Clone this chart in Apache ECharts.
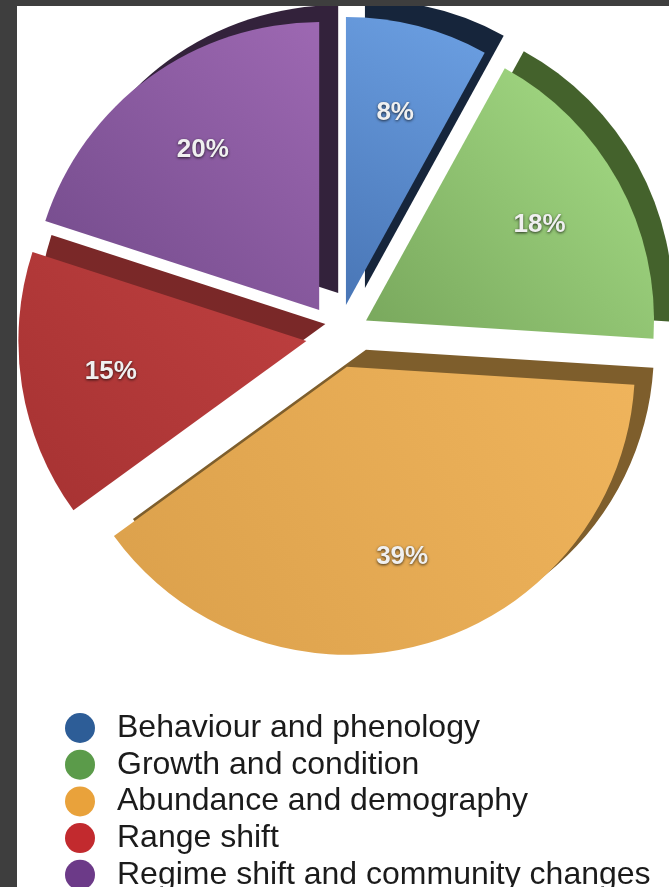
<!DOCTYPE html>
<html>
<head>
<meta charset="utf-8">
<script src="https://cdn.jsdelivr.net/npm/echarts@6/dist/echarts.min.js"></script>
<style>
  html, body { margin: 0; padding: 0; background: #3e3e3e; width: 669px; height: 887px; overflow: hidden; }
  #chart { position: absolute; left: 17px; top: 6px; width: 652px; height: 881px; background: #ffffff; }
</style>
</head>
<body>
<div id="chart"></div>
<script>
// Categories and their share of studies (percent)
const categories = [
  'Behaviour and phenology',
  'Growth and condition',
  'Abundance and demography',
  'Range shift',
  'Regime shift and community changes'
];
const shares = [8, 18, 39, 15, 20];

// Palette: top face gradient (light, dark), side wall, legend dot
const faceLight = ['#6ca0e3', '#a8df88', '#efb45c', '#bf4040', '#9d68b2'];
const faceDark  = ['#4976b6', '#78a75c', '#dba04b', '#a63232', '#724a8a'];
const wallColor = ['#16253b', '#44622c', '#7e5e2c', '#7a2828', '#33223b'];
const dotColor  = ['#2d5d97', '#5b9b4a', '#e9a23b', '#c22a2e', '#6c3a88'];

const chart = echarts.init(document.getElementById('chart'));

const cx = 321, cy = 330, R = 288, explode = 32;

function faceData() {
  return categories.map((name, i) => ({
    name, value: shares[i], selected: true,
    itemStyle: {
      color: new echarts.graphic.LinearGradient(1, 0, 0, 1, [
        { offset: 0, color: faceLight[i] },
        { offset: 1, color: faceDark[i] }
      ])
    }
  }));
}
function wallData() {
  return categories.map((name, i) => ({
    name, value: shares[i], selected: true,
    itemStyle: { color: wallColor[i] }
  }));
}
function labelData() {
  return categories.map((name, i) => ({ name, value: shares[i], selected: true }));
}

const common = {
  type: 'pie',
  startAngle: 90,
  clockwise: true,
  selectedMode: 'multiple',
  selectedOffset: explode,
  avoidLabelOverlap: false,
  labelLine: { show: false },
  emphasis: { disabled: true },
  silent: true
};

chart.setOption({
  animation: false,
  backgroundColor: '#ffffff',
  legend: {
    orient: 'vertical',
    left: 43,
    top: 701,
    height: 200,
    icon: 'circle',
    itemWidth: 30,
    itemHeight: 30,
    itemGap: 4.7,
    selectedMode: false,
    textStyle: {
      fontFamily: 'Liberation Sans, Arial, sans-serif',
      fontSize: 32,
      lineHeight: 30,
      color: '#1b1b1b',
      padding: [0, 0, 0, 17]
    },
    data: categories.map((name, i) => ({ name, itemStyle: { color: dotColor[i] } }))
  },
  series: [
    Object.assign({}, common, {
      name: 'wall',
      z: 1,
      center: [cx + 19, cy - 17],
      radius: [0, R],
      label: { show: false },
      data: wallData()
    }),
    Object.assign({}, common, {
      name: 'face',
      z: 2,
      center: [cx, cy],
      radius: [0, R],
      label: { show: false },
      data: faceData()
    }),
    Object.assign({}, common, {
      name: 'labels',
      z: 3,
      center: [cx, cy],
      radius: [104, 286],
      itemStyle: { color: 'rgba(0,0,0,0)' },
      label: {
        show: true,
        position: 'inside',
        formatter: '{c}%',
        fontFamily: 'Liberation Sans, Arial, sans-serif',
        fontSize: 26,
        fontWeight: 'bold',
        color: '#f0f0f0',
        textShadowColor: 'rgba(0,0,0,0.75)',
        textShadowBlur: 3,
        textShadowOffsetY: 1
      },
      data: labelData()
    })
  ]
});
</script>
</body>
</html>
